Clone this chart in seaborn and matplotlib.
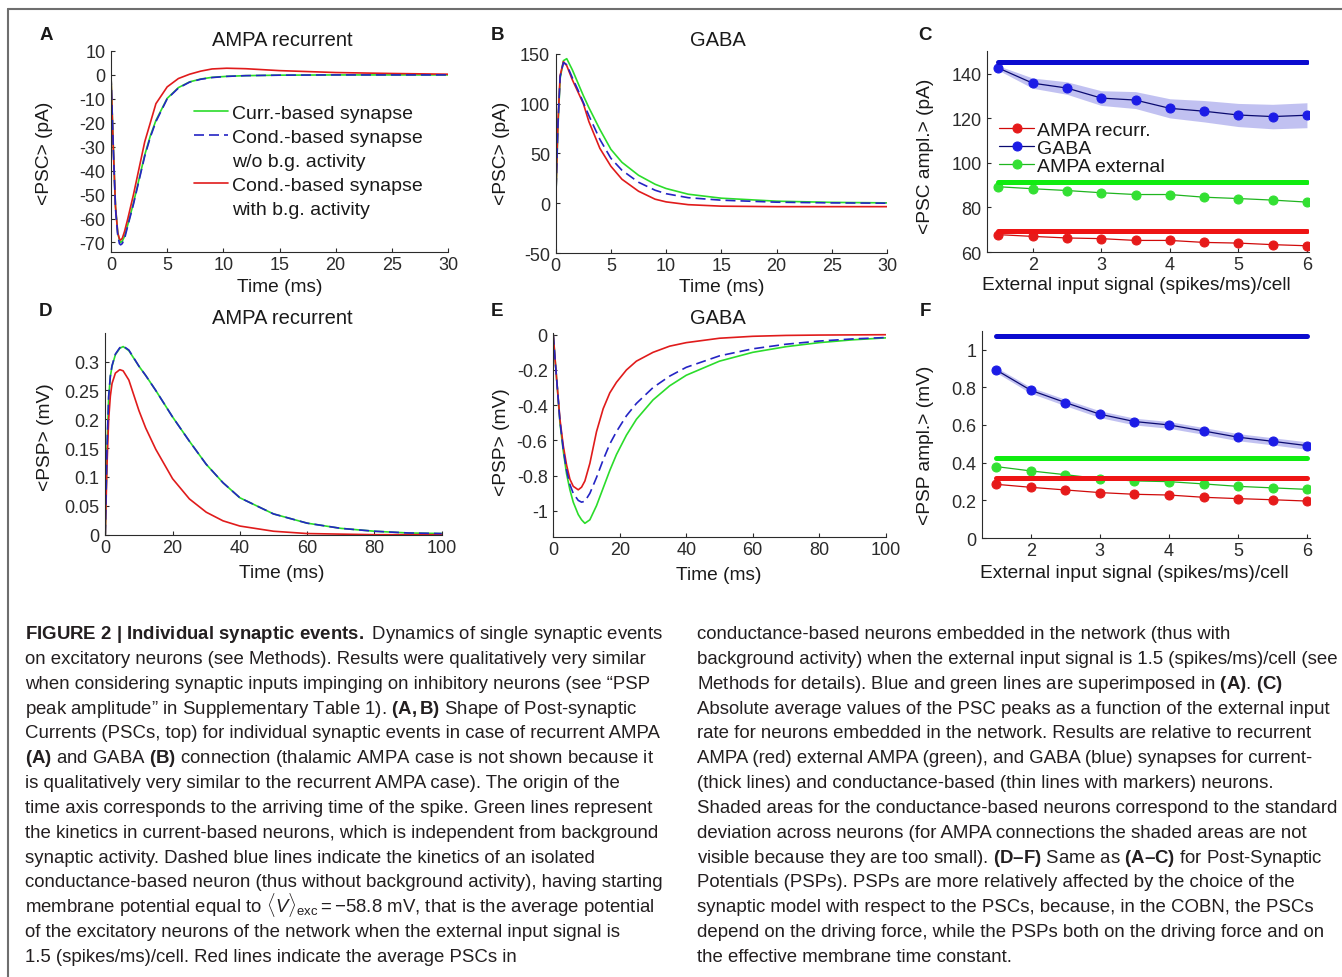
import matplotlib
matplotlib.use("Agg")
import seaborn as sns
import matplotlib.pyplot as plt
from matplotlib.lines import Line2D
from matplotlib.ticker import FormatStrFormatter

# =====================================================================
# 1. DATA
# =====================================================================
# A: PSC, AMPA recurrent (pA)
t_psc_ampa = [0, 0.2, 0.4, 0.6, 0.75, 0.86, 1.0, 1.2, 1.5, 2, 2.5, 3, 3.5, 4, 5, 6, 7, 8, 9,
              10.3, 12, 15, 20, 25, 30]
psc_ampa_curr = [0, -29, -55, -66, -69, -70, -69.5, -67.5, -62.5, -53.5, -43.5, -33.5, -25.5,
                 -19, -9.8, -5.3, -2.9, -1.7, -1.0, -0.6, -0.3, -0.1, 0, 0, 0]
psc_ampa_cond = [0, -30, -56, -67, -70.5, -71, -70.5, -68.5, -63, -54, -44, -34, -26, -19.5,
                 -10, -5.5, -3, -1.8, -1.1, -0.6, -0.3, -0.1, 0, 0, 0]
psc_ampa_bg = [0, -30, -55, -66, -68.5, -69, -68.3, -65.5, -60, -50, -39, -28, -20, -12, -5,
               -1.5, 0.3, 1.6, 2.5, 2.8, 2.6, 1.8, 1.0, 0.6, 0.3]

# B: PSC, GABA (pA)
t_psc_gaba = [0, 0.2, 0.4, 0.7, 1.0, 1.5, 2, 2.5, 3, 4, 5, 6, 7.5, 9, 10, 12, 15, 20, 25, 30]
psc_gaba_curr = [0, 75, 125, 143, 145, 134, 121, 108, 96, 74, 54, 41, 28, 19, 14.7, 9, 5, 2,
                 0.8, 0.3]
psc_gaba_cond = [0, 78, 127, 141, 139, 126, 114, 101, 88, 64, 45, 33, 21, 13, 9.5, 5.5, 3, 1,
                 0.3, 0]
psc_gaba_bg = [0, 80, 128, 142, 138, 124, 112, 100, 82, 55, 37, 24, 12, 4, 1.3, -1.5, -3, -3.5,
               -3.5, -3.5]

# D: PSP, AMPA recurrent (mV)
t_psp_ampa = [0, 0.5, 1, 1.5, 2, 3, 4.3, 5.3, 7, 10, 12, 15, 20, 25, 30, 35, 40, 50, 60, 70,
              80, 90, 100]
psp_ampa_curr = [0, 0.148, 0.238, 0.274, 0.292, 0.312, 0.323, 0.326, 0.319, 0.292, 0.276,
                 0.25, 0.204, 0.162, 0.122, 0.09, 0.064, 0.036, 0.02, 0.011, 0.006, 0.003, 0.002]
psp_ampa_cond = [0, 0.15, 0.24, 0.275, 0.293, 0.313, 0.324, 0.327, 0.32, 0.292, 0.276, 0.25,
                 0.204, 0.162, 0.122, 0.09, 0.064, 0.036, 0.02, 0.011, 0.006, 0.003, 0.002]
psp_ampa_bg = [0, 0.12, 0.2, 0.24, 0.262, 0.28, 0.286, 0.284, 0.268, 0.215, 0.185, 0.148,
               0.097, 0.062, 0.039, 0.024, 0.015, 0.006, 0.002, 0.001, 0, 0, 0]

# E: PSP, GABA (mV)
t_psp_gaba = [0, 0.5, 1, 2, 3, 4, 5, 6, 7.5, 8.5, 9.5, 11, 13, 15, 17, 19, 22, 25, 30, 35, 40,
              50, 60, 70, 80, 90, 100]
psp_gaba_curr = [0, -0.13, -0.25, -0.5, -0.66, -0.79, -0.88, -0.95, -1.02, -1.05, -1.07, -1.05,
                 -0.97, -0.87, -0.77, -0.68, -0.57, -0.48, -0.37, -0.29, -0.23, -0.15, -0.1,
                 -0.068, -0.045, -0.029, -0.018]
psp_gaba_cond = [0, -0.13, -0.25, -0.49, -0.65, -0.77, -0.85, -0.9, -0.94, -0.95, -0.945, -0.9,
                 -0.81, -0.71, -0.62, -0.55, -0.46, -0.39, -0.3, -0.235, -0.185, -0.12, -0.08,
                 -0.054, -0.036, -0.024, -0.016]
psp_gaba_bg = [0, -0.13, -0.25, -0.48, -0.63, -0.74, -0.82, -0.86, -0.88, -0.865, -0.83, -0.73,
               -0.55, -0.42, -0.33, -0.27, -0.2, -0.15, -0.1, -0.065, -0.045, -0.02, -0.009,
               -0.004, -0.002, -0.001, 0]

# C / F: peak amplitude vs external input signal
ext_input = [1.5, 2, 2.5, 3, 3.5, 4, 4.5, 5, 5.5, 6]

psc_peak_ampa_rec = [67.8, 67.0, 66.3, 66.0, 65.2, 65.2, 64.3, 64.0, 63.3, 62.8]
psc_peak_gaba = [142.6, 135.8, 133.6, 129.1, 128.2, 124.5, 123.2, 121.5, 120.8, 121.4]
psc_peak_gaba_sd = [1.0, 2.3, 2.8, 3.3, 3.8, 4.3, 4.8, 5.2, 5.5, 5.6]
psc_peak_ampa_ext = [89.3, 88.4, 87.6, 86.6, 85.8, 85.8, 84.6, 84.0, 83.3, 82.4]
psc_curr_ampa_rec = 69.6
psc_curr_gaba = 145.4
psc_curr_ampa_ext = 91.5

psp_peak_ampa_rec = [0.285, 0.269, 0.255, 0.241, 0.232, 0.228, 0.216, 0.209, 0.203, 0.196]
psp_peak_gaba = [0.892, 0.784, 0.719, 0.657, 0.618, 0.600, 0.568, 0.535, 0.513, 0.490]
psp_peak_gaba_sd = [0.014, 0.016, 0.017, 0.018, 0.018, 0.018, 0.018, 0.019, 0.019, 0.02]
psp_peak_ampa_ext = [0.379, 0.356, 0.336, 0.315, 0.303, 0.299, 0.287, 0.274, 0.266, 0.258]
psp_curr_ampa_rec = 0.320
psp_curr_gaba = 1.071
psp_curr_ampa_ext = 0.423

curve_labels = ["Curr.-based synapse", "Cond.-based synapse", "w/o b.g. activity",
                "Cond.-based synapse", "with b.g. activity"]
peak_labels = ["AMPA recurr.", "GABA", "AMPA external"]

caption_left = [
    r"$\mathbf{FIGURE\ 2\ |\ Individual\ synaptic\ events.}$ Dynamics of single synaptic events",
    "on excitatory neurons (see Methods). Results were qualitatively very similar",
    "when considering synaptic inputs impinging on inhibitory neurons (see \u201cPSP",
    "peak amplitude\u201d in Supplementary Table 1). $\\mathbf{(A,B)}$ Shape of Post-synaptic",
    "Currents (PSCs, top) for individual synaptic events in case of recurrent AMPA",
    r"$\mathbf{(A)}$ and GABA $\mathbf{(B)}$ connection (thalamic AMPA case is not shown because it",
    "is qualitatively very similar to the recurrent AMPA case). The origin of the",
    "time axis corresponds to the arriving time of the spike. Green lines represent",
    "the kinetics in current-based neurons, which is independent from background",
    "synaptic activity. Dashed blue lines indicate the kinetics of an isolated",
    "conductance-based neuron (thus without background activity), having starting",
    r"membrane potential equal to $\langle V\rangle_{\mathrm{exc}}=-58.8$ mV, that is the average potential",
    "of the excitatory neurons of the network when the external input signal is",
    "1.5 (spikes/ms)/cell. Red lines indicate the average PSCs in",
]
caption_right = [
    "conductance-based neurons embedded in the network (thus with",
    "background activity) when the external input signal is 1.5 (spikes/ms)/cell (see",
    r"Methods for details). Blue and green lines are superimposed in $\mathbf{(A)}$. $\mathbf{(C)}$",
    "Absolute average values of the PSC peaks as a function of the external input",
    "rate for neurons embedded in the network. Results are relative to recurrent",
    "AMPA (red) external AMPA (green), and GABA (blue) synapses for current-",
    "(thick lines) and conductance-based (thin lines with markers) neurons.",
    "Shaded areas for the conductance-based neurons correspond to the standard",
    "deviation across neurons (for AMPA connections the shaded areas are not",
    "visible because they are too small). $\\mathbf{(D\u2013F)}$ Same as $\\mathbf{(A\u2013C)}$ for Post-Synaptic",
    "Potentials (PSPs). PSPs are more relatively affected by the choice of the",
    "synaptic model with respect to the PSCs, because, in the COBN, the PSCs",
    "depend on the driving force, while the PSPs both on the driving force and on",
    "the effective membrane time constant.",
]

# =====================================================================
# 2. STYLE
# =====================================================================
TICK_FS = 13
LABEL_FS = 13.8
sns.set_theme(style="ticks", rc={
    "axes.linewidth": 0.8, "axes.edgecolor": "#2b2b2b",
    "xtick.direction": "in", "ytick.direction": "in",
    "xtick.major.size": 3.2, "ytick.major.size": 3.2,
    "xtick.major.width": 0.8, "ytick.major.width": 0.8,
    "xtick.major.pad": 3, "ytick.major.pad": 4,
    "xtick.color": "#2b2b2b", "ytick.color": "#2b2b2b",
    "xtick.labelsize": TICK_FS, "ytick.labelsize": TICK_FS,
    "text.color": "#1a1a1a", "axes.labelcolor": "#1a1a1a",
})
plt.rcParams["font.family"] = ["Liberation Sans", "DejaVu Sans"]
plt.rcParams["axes.unicode_minus"] = False
plt.rcParams["mathtext.fontset"] = "custom"
plt.rcParams["mathtext.rm"] = "Liberation Sans"
plt.rcParams["mathtext.it"] = "Liberation Sans:italic"
plt.rcParams["mathtext.bf"] = "Liberation Sans:bold"

GREEN = "#2bdc2b"
BLUE = "#2424c4"
RED = "#e01b1b"
THICK = {"red": "#ee1414", "blue": "#0b0bcf", "green": "#10ec10"}
THIN = {"red": "#d00a0a", "blue": "#0a0a70", "green": "#1fb51f"}
MARK = {"red": "#e61a1a", "blue": "#1c1ce6", "green": "#33e033"}
BAND = "#b7b7ef"

W, H = 1342, 978
fig = plt.figure(figsize=(W / 100, H / 100), dpi=100)
fig.patch.set_facecolor("white")


def px_rect(r):
    l, t, rr, b = r
    return [l / W, 1 - b / H, (rr - l) / W, (b - t) / H]


def to_ax(r, x, y):
    l, t, rr, b = r
    return (x - l) / (rr - l), (b - y) / (b - t)


def style_axes(ax, r, xlim, ylim, xticks, yticks, xlabel, ylabel, xlab_px, ylab_px):
    ax.set_xlim(xlim)
    ax.set_ylim(ylim)
    ax.set_xticks(xticks)
    ax.set_yticks(yticks)
    ax.xaxis.set_major_formatter(FormatStrFormatter("%g"))
    ax.yaxis.set_major_formatter(FormatStrFormatter("%g"))
    sns.despine(ax=ax)
    ax.set_xlabel(xlabel, fontsize=LABEL_FS, va="center")
    ax.set_ylabel(ylabel, fontsize=LABEL_FS, va="center")
    ax.xaxis.set_label_coords(*to_ax(r, *xlab_px))
    ax.yaxis.set_label_coords(*to_ax(r, *ylab_px))


def draw_curves(ax, t, curr, cond, bg):
    sns.lineplot(x=t, y=curr, color=GREEN, linewidth=1.2, ax=ax, legend=False, errorbar=None)
    sns.lineplot(x=t, y=bg, color=RED, linewidth=1.2, ax=ax, legend=False, errorbar=None)
    sns.lineplot(x=t, y=cond, color=BLUE, linewidth=1.2, linestyle=(0, (6, 3)), ax=ax,
                 legend=False, errorbar=None)
    return ax.lines[0], ax.lines[2], ax.lines[1]


def draw_peaks(ax, x, rec, gaba, gaba_sd, ext, c_rec, c_gaba, c_ext):
    lo = [m - s for m, s in zip(gaba, gaba_sd)]
    hi = [m + s for m, s in zip(gaba, gaba_sd)]
    ax.fill_between(x, lo, hi, color=BAND, linewidth=0, alpha=0.85)
    handles = []
    for vals, key in [(rec, "red"), (gaba, "blue"), (ext, "green")]:
        sns.lineplot(x=x, y=vals, color=THIN[key], linewidth=0.9, marker="o", markersize=6.5,
                     markerfacecolor=MARK[key], markeredgecolor=MARK[key], ax=ax,
                     legend=False, errorbar=None)
        handles.append(ax.lines[-1])
    for val, key in [(c_gaba, "blue"), (c_ext, "green"), (c_rec, "red")]:
        sns.lineplot(x=x, y=[val] * len(x), color=THICK[key], linewidth=3.6, ax=ax,
                     legend=False, errorbar=None)
    return handles


# =====================================================================
# 3. PANELS
# =====================================================================
rA = (111, 52, 448, 253)
rB = (555.7, 54.7, 887, 254)
rC = (987, 52.3, 1309, 253)
rD = (105.3, 334.3, 441.7, 535.7)
rE = (553.3, 334.3, 885.7, 537.7)
rF = (982.3, 331.7, 1310, 539)

# A
axA = fig.add_axes(px_rect(rA))
hg, hb, hr = draw_curves(axA, t_psc_ampa, psc_ampa_curr, psc_ampa_cond, psc_ampa_bg)
style_axes(axA, rA, (0, 30), (-74, 10), range(0, 31, 5), range(-70, 11, 10),
           "Time (ms)", "<PSC> (pA)", (280, 288), (45, 153))
blank = Line2D([], [], color="none")
axA.legend([hg, hb, blank, hr, blank], curve_labels, loc="upper left",
           bbox_to_anchor=to_ax(rA, 194, 105), frameon=False, fontsize=14,
           handlelength=1.75, handletextpad=0.2, labelspacing=0.33, borderpad=0,
           borderaxespad=0)

# B
axB = fig.add_axes(px_rect(rB))
draw_curves(axB, t_psc_gaba, psc_gaba_curr, psc_gaba_cond, psc_gaba_bg)
style_axes(axB, rB, (0, 30), (-50, 150), range(0, 31, 5), range(-50, 151, 50),
           "Time (ms)", "<PSC> (pA)", (722, 287), (502, 153))

# C
axC = fig.add_axes(px_rect(rC))
hC = draw_peaks(axC, ext_input, psc_peak_ampa_rec, psc_peak_gaba, psc_peak_gaba_sd,
                psc_peak_ampa_ext, psc_curr_ampa_rec, psc_curr_gaba, psc_curr_ampa_ext)
style_axes(axC, rC, (1.334, 6.03), (60, 150.1), range(2, 7), range(60, 141, 20),
           "External input signal (spikes/ms)/cell", "<PSC ampl.> (pA)", (1136, 286), (925, 156))
axC.legend(hC, peak_labels, loc="upper left", bbox_to_anchor=to_ax(rC, 999, 122),
           frameon=False, fontsize=14, handlelength=1.8, handletextpad=0.15,
           labelspacing=0.03, borderpad=0, borderaxespad=0)

# D
axD = fig.add_axes(px_rect(rD))
draw_curves(axD, t_psp_ampa, psp_ampa_curr, psp_ampa_cond, psp_ampa_bg)
style_axes(axD, rD, (0, 100), (0, 0.349), range(0, 101, 20),
           [0, 0.05, 0.1, 0.15, 0.2, 0.25, 0.3], "Time (ms)", "<PSP> (mV)", (282, 574), (45, 437))

# E
axE = fig.add_axes(px_rect(rE))
draw_curves(axE, t_psp_gaba, psp_gaba_curr, psp_gaba_cond, psp_gaba_bg)
style_axes(axE, rE, (0, 100), (-1.146, 0.008), range(0, 101, 20),
           [-1, -0.8, -0.6, -0.4, -0.2, 0], "Time (ms)", "<PSP> (mV)", (719, 575), (502, 442))

# F
axF = fig.add_axes(px_rect(rF))
draw_peaks(axF, ext_input, psp_peak_ampa_rec, psp_peak_gaba, psp_peak_gaba_sd,
           psp_peak_ampa_ext, psp_curr_ampa_rec, psp_curr_gaba, psp_curr_ampa_ext)
style_axes(axF, rF, (1.30, 6.04), (0, 1.10), range(2, 7), [0, 0.2, 0.4, 0.6, 0.8, 1],
           "External input signal (spikes/ms)/cell", "<PSP ampl.> (mV)", (1134, 574), (925, 445))

# titles and panel letters
for txt, x, y in [("AMPA recurrent", 282, 41), ("GABA", 718, 41),
                  ("AMPA recurrent", 282, 318), ("GABA", 718, 319)]:
    fig.text(x / W, 1 - y / H, txt, ha="center", va="center", fontsize=14.5)
for txt, x, y in [("A", 46, 35), ("B", 498, 35), ("C", 925, 35),
                  ("D", 46, 312), ("E", 497, 312), ("F", 925, 312)]:
    fig.text(x / W, 1 - y / H, txt, ha="center", va="center", fontsize=13.5, fontweight="bold")

# frame of the figure box
fig.add_artist(Line2D([8 / W, 1], [1 - 10 / H, 1 - 10 / H], transform=fig.transFigure,
                      color="#6e6e6e", linewidth=1.5))
fig.add_artist(Line2D([8 / W, 8 / W], [0, 1 - 10 / H], transform=fig.transFigure,
                      color="#6e6e6e", linewidth=1.5))

# =====================================================================
# 4. CAPTION
# =====================================================================
renderer = fig.canvas.get_renderer()
probe = fig.text(0, 0, caption_left[8], fontsize=12)
probe_w = probe.get_window_extent(renderer=renderer).width
probe.remove()
cap_size = 12 * 638 / probe_w

for i, line in enumerate(caption_left):
    fig.text(25 / W, 1 - (639 + i * 24.85) / H, line, fontsize=cap_size, va="baseline",
             ha="left", color="#231f20")
for i, line in enumerate(caption_right):
    fig.text(697 / W, 1 - (639 + i * 24.85) / H, line, fontsize=cap_size, va="baseline",
             ha="left", color="#231f20")

fig.savefig("out.png", dpi=100, facecolor="white")
